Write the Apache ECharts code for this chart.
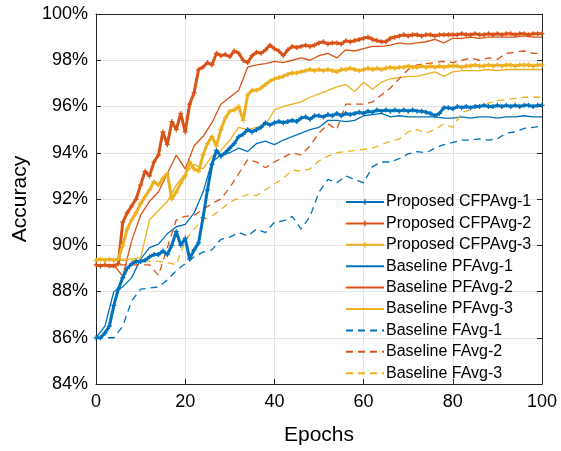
<!DOCTYPE html>
<html>
<head>
<meta charset="utf-8">
<script src="https://cdn.jsdelivr.net/npm/echarts@6/dist/echarts.min.js"></script>
<style>
html,body{margin:0;padding:0;background:#fff;}
#chart{width:561px;height:451px;}
</style>
</head>
<body>
<div id="chart"></div>
<script>
// Epochs for the proposed methods (every epoch)
const epochsFine = [0,1,2,3,4,5,6,7,8,9,10,11,12,13,14,15,16,17,18,19,20,21,22,23,24,25,26,27,28,29,30,31,32,33,34,35,36,37,38,39,40,41,42,43,44,45,46,47,48,49,50,51,52,53,54,55,56,57,58,59,60,61,62,63,64,65,66,67,68,69,70,71,72,73,74,75,76,77,78,79,80,81,82,83,84,85,86,87,88,89,90,91,92,93,94,95,96,97,98,99,100];
// Epochs for the baselines (every 2 epochs)
const epochsCoarse = [0,2,4,6,8,10,12,14,16,18,20,22,24,26,28,30,32,34,36,38,40,42,44,46,48,50,52,54,56,58,60,62,64,66,68,70,72,74,76,78,80,82,84,86,88,90,92,94,96,98,100];

const proposed1 = [86.0,86.0,86.2,86.5,87.4,88.1,88.6,89.0,89.2,89.3,89.3,89.35,89.5,89.6,89.6,89.75,89.6,90.0,90.6,90.0,90.3,89.4,89.8,90.1,91.2,92.4,93.5,94.1,93.85,94.0,94.2,94.4,94.7,94.8,95.0,94.9,95.0,95.1,95.3,95.2,95.3,95.35,95.3,95.35,95.4,95.35,95.5,95.55,95.45,95.6,95.6,95.55,95.65,95.6,95.7,95.6,95.7,95.65,95.7,95.75,95.7,95.8,95.75,95.85,95.8,95.85,95.8,95.85,95.8,95.85,95.8,95.85,95.8,95.8,95.75,95.7,95.6,95.7,95.95,95.95,95.9,96.0,95.95,96.0,95.95,96.0,96.0,96.05,96.0,96.0,96.05,96.0,96.05,96.0,96.05,96.0,96.05,96.05,96.0,96.05,96.05];
const proposed2 = [89.15,89.1,89.15,89.1,89.1,89.2,91.0,91.4,91.7,92.0,92.6,93.2,93.0,93.6,93.9,94.9,94.35,95.35,95.0,95.7,94.9,96.1,96.6,97.6,97.7,97.9,97.8,98.3,98.2,98.25,98.15,98.4,98.3,98.0,97.9,98.2,98.35,98.3,98.45,98.65,98.5,98.4,98.2,98.45,98.6,98.55,98.6,98.65,98.6,98.65,98.75,98.8,98.7,98.75,98.75,98.7,98.85,98.8,98.85,98.9,98.95,99.0,98.9,98.85,98.8,98.8,98.95,99.0,99.05,99.1,99.05,99.1,99.1,99.05,99.1,99.1,99.05,99.1,99.1,99.1,99.1,99.1,99.15,99.1,99.1,99.15,99.1,99.1,99.15,99.1,99.15,99.1,99.15,99.15,99.1,99.15,99.15,99.1,99.15,99.15,99.15];
const proposed3 = [89.35,89.4,89.35,89.4,89.35,89.4,90.0,90.7,91.1,91.4,91.8,92.1,92.4,92.75,92.6,92.9,93.1,92.0,92.3,92.7,93.0,93.6,93.3,93.2,93.9,94.4,94.7,94.3,95.0,95.5,95.8,95.85,96.0,95.4,96.5,96.7,96.7,96.8,96.95,97.1,97.2,97.25,97.3,97.4,97.45,97.45,97.5,97.55,97.6,97.55,97.6,97.55,97.6,97.55,97.5,97.6,97.6,97.65,97.6,97.55,97.6,97.65,97.6,97.65,97.6,97.65,97.7,97.65,97.7,97.7,97.75,97.7,97.7,97.75,97.7,97.75,97.7,97.75,97.7,97.75,97.75,97.75,97.7,97.75,97.75,97.8,97.75,97.75,97.8,97.75,97.8,97.75,97.8,97.8,97.75,97.8,97.8,97.8,97.75,97.8,97.8];

const pfavg1 = [86.0,86.5,88.0,88.2,88.6,89.4,89.9,90.05,90.5,90.8,90.9,91.4,92.3,93.6,93.9,94.0,94.2,94.05,94.4,94.5,94.35,94.55,94.7,94.85,95.0,95.1,95.4,95.4,95.35,95.4,95.6,95.65,95.7,95.55,95.6,95.55,95.55,95.55,95.55,95.5,95.5,95.55,95.5,95.55,95.55,95.5,95.55,95.55,95.6,95.55,95.55];
const pfavg2 = [89.15,89.15,89.15,88.65,90.2,91.3,91.9,92.3,93.1,93.9,93.3,94.3,94.7,95.3,96.1,96.4,96.7,97.7,97.8,97.85,97.95,97.9,98.0,98.1,98.0,98.2,98.3,98.1,98.45,98.4,98.5,98.6,98.6,98.65,98.75,98.7,98.75,98.8,98.9,98.75,98.95,98.95,99.0,98.95,99.0,99.0,99.0,99.0,99.05,99.0,99.0];
const pfavg3 = [89.4,89.4,89.4,89.4,89.4,89.45,91.1,91.5,91.9,92.6,93.1,93.5,93.3,93.85,94.1,94.55,95.1,95.0,95.1,95.2,95.85,96.0,96.1,96.2,96.4,96.55,96.7,96.85,96.95,96.65,97.05,96.75,97.05,97.2,97.25,97.3,97.3,97.4,97.5,97.3,97.5,97.55,97.55,97.55,97.6,97.55,97.6,97.6,97.6,97.6,97.6];

const favg1 = [86.0,86.0,86.0,86.5,87.6,88.1,88.15,88.2,88.5,88.9,89.2,89.5,89.7,89.8,90.25,90.35,90.55,90.4,90.7,90.55,91.0,91.05,91.25,90.7,91.25,92.3,92.85,92.7,93.0,92.85,92.7,93.4,93.6,93.6,93.75,93.95,94.05,94.0,94.2,94.35,94.45,94.55,94.55,94.6,94.55,94.6,94.85,94.9,95.05,95.1,95.15];
const favg2 = [89.15,89.15,89.15,89.15,89.15,89.15,89.15,88.7,89.9,91.1,91.25,91.3,91.55,91.8,92.0,92.5,93.1,93.7,93.6,93.35,93.6,93.8,94.0,93.9,94.3,94.85,95.25,95.0,96.1,96.1,96.1,96.2,96.5,96.8,97.2,97.6,97.8,97.85,97.9,97.95,97.9,98.0,98.1,98.0,98.1,98.05,98.3,98.35,98.4,98.3,98.3];
const favg3 = [89.35,89.35,89.35,89.35,89.35,89.35,89.3,89.3,89.25,89.15,90.2,90.7,91.1,91.25,91.55,91.85,92.05,92.2,92.15,92.4,92.65,92.9,93.25,93.2,93.3,93.65,93.85,94.0,94.05,94.1,94.15,94.2,94.35,94.5,94.6,94.9,95.0,94.85,95.0,95.25,95.1,95.75,95.85,96.0,96.15,96.25,96.3,96.35,96.4,96.4,96.4];

const yTicks = [84,86,88,90,92,94,96,98,100];
const xTicks = [0,20,40,60,80,100];

const names = ['Proposed CFPAvg-1','Proposed CFPAvg-2','Proposed CFPAvg-3',
  'Baseline PFAvg-1','Baseline PFAvg-2','Baseline PFAvg-3',
  'Baseline FAvg-1','Baseline FAvg-2','Baseline FAvg-3'];
const colors = ['#0072BD','#D95319','#EDB120'];

function pair(xs, ys){ return xs.map((x,i)=>[x, ys[i]]); }
const plus = 'path://M-0.25,-1H0.25V-0.25H1V0.25H0.25V1H-0.25V0.25H-1V-0.25H-0.25Z';

function proposedSeries(name, ys, c){
  return {name, type:'line', data:pair(epochsFine, ys), xAxisIndex:0, yAxisIndex:0,
    symbol:plus, symbolSize:5, showSymbol:true, itemStyle:{color:c},
    lineStyle:{color:c, width:3}, animation:false, z:3};
}
function baseSeries(name, ys, c, dashed){
  return {name, type:'line', data:pair(epochsCoarse, ys), xAxisIndex:0, yAxisIndex:0,
    symbol:'none', showSymbol:false, itemStyle:{color:c},
    lineStyle:{color:c, width:1.3, type: dashed ? [7,5] : 'solid'}, animation:false, z:2};
}

const series = [
  proposedSeries(names[0], proposed1, colors[0]),
  proposedSeries(names[1], proposed2, colors[1]),
  proposedSeries(names[2], proposed3, colors[2]),
  baseSeries(names[3], pfavg1, colors[0], false),
  baseSeries(names[4], pfavg2, colors[1], false),
  baseSeries(names[5], pfavg3, colors[2], false),
  baseSeries(names[6], favg1, colors[0], true),
  baseSeries(names[7], favg2, colors[1], true),
  baseSeries(names[8], favg3, colors[2], true)
];

const legendData = names.map((n, i) => i < 3 ? {name:n} : {name:n, itemStyle:{opacity:0}});

const axisCol = '#262626';
const gridCol = '#e3e3e3';
const font = 'Liberation Sans, Arial, Helvetica, sans-serif';

const chart = echarts.init(document.getElementById('chart'), null, {renderer:'canvas'});
chart.setOption({
  backgroundColor:'#ffffff',
  animation:false,
  grid:{left:96, right:19, top:14, bottom:66, containLabel:false},
  legend:{
    data:legendData, orient:'vertical', left:345, top:193,
    itemWidth:38, itemHeight:7, itemGap:3.4,
    textStyle:{fontFamily:font, fontSize:16, color:'#000', lineHeight:18, padding:[0,0,0,-3]},
    backgroundColor:'transparent', padding:0
  },
  xAxis:[
    {type:'value', min:xTicks[0], max:xTicks[xTicks.length-1], interval:20, position:'bottom',
     axisLine:{show:true, onZero:false, lineStyle:{color:axisCol, width:1}},
     axisTick:{show:true, inside:true, length:5, lineStyle:{color:axisCol}},
     axisLabel:{color:'#000', fontFamily:font, fontSize:18, margin:9},
     splitLine:{show:true, lineStyle:{color:gridCol, width:1}},
     name:'Epochs', nameLocation:'middle', nameGap:41,
     nameTextStyle:{color:'#000', fontFamily:font, fontSize:21}},
    {type:'value', min:xTicks[0], max:xTicks[xTicks.length-1], interval:20, position:'top',
     axisLine:{show:true, onZero:false, lineStyle:{color:axisCol, width:1}},
     axisTick:{show:true, inside:true, length:5, lineStyle:{color:axisCol}},
     axisLabel:{show:false}, splitLine:{show:false}}
  ],
  yAxis:[
    {type:'value', min:yTicks[0], max:yTicks[yTicks.length-1], interval:2, position:'left',
     axisLine:{show:true, onZero:false, lineStyle:{color:axisCol, width:1}},
     axisTick:{show:true, inside:true, length:5, lineStyle:{color:axisCol}},
     axisLabel:{color:'#000', fontFamily:font, fontSize:18, margin:8, formatter:'{value}%'},
     splitLine:{show:true, lineStyle:{color:gridCol, width:1}},
     name:'Accuracy', nameLocation:'middle', nameGap:60,
     nameTextStyle:{color:'#000', fontFamily:font, fontSize:21}},
    {type:'value', min:yTicks[0], max:yTicks[yTicks.length-1], interval:2, position:'right',
     axisLine:{show:true, onZero:false, lineStyle:{color:axisCol, width:1}},
     axisTick:{show:true, inside:true, length:5, lineStyle:{color:axisCol}},
     axisLabel:{show:false}, splitLine:{show:false}}
  ],
  series: series
});
</script>
</body>
</html>
